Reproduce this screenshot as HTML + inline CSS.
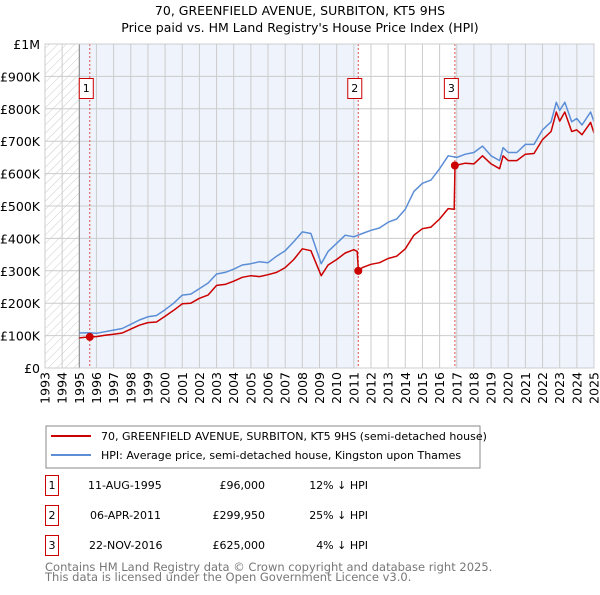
<!DOCTYPE html>
<html><head><meta charset="utf-8"><style>
body{margin:0;background:#fff;font-family:"Liberation Sans","DejaVu Sans",sans-serif;}
svg text{font-family:"DejaVu Sans","Liberation Sans",sans-serif;}
</style></head><body>
<svg id="c" width="600" height="590" xmlns="http://www.w3.org/2000/svg">
<defs><pattern id="hatch" width="6" height="6" patternUnits="userSpaceOnUse" patternTransform="rotate(45)"><line x1="0" y1="0" x2="0" y2="6" stroke="#ccc" stroke-width="1"/></pattern></defs>
<text x="300" y="15" text-anchor="middle" font-size="12.5">70, GREENFIELD AVENUE, SURBITON, KT5 9HS</text>
<text x="300" y="32" text-anchor="middle" font-size="12.5">Price paid vs. HM Land Registry's House Price Index (HPI)</text>
<g id="plot"></g>
<rect x="46" y="426" width="434" height="42" fill="#fff" stroke="#888"/>
<line x1="51" y1="436" x2="91" y2="436" stroke="#cc0000" stroke-width="2"/>
<text x="101" y="440" font-size="11">70, GREENFIELD AVENUE, SURBITON, KT5 9HS (semi-detached house)</text>
<line x1="51" y1="455" x2="91" y2="455" stroke="#5b8ed6" stroke-width="2"/>
<text x="101" y="459" font-size="11">HPI: Average price, semi-detached house, Kingston upon Thames</text>
<g font-size="11">
<rect x="45.5" y="475.5" width="13" height="20" fill="#fff" stroke="#cc0000"/><text x="52" y="489" text-anchor="middle">1</text>
<text x="88" y="489">11-AUG-1995</text><text x="265" y="489" text-anchor="end">£96,000</text><text x="368" y="489" text-anchor="end">12% ↓ HPI</text>
<rect x="45.5" y="505.5" width="13" height="20" fill="#fff" stroke="#cc0000"/><text x="52" y="519" text-anchor="middle">2</text>
<text x="90" y="519">06-APR-2011</text><text x="265" y="519" text-anchor="end">£299,950</text><text x="368" y="519" text-anchor="end">25% ↓ HPI</text>
<rect x="45.5" y="535.5" width="13" height="20" fill="#fff" stroke="#cc0000"/><text x="52" y="549" text-anchor="middle">3</text>
<text x="89" y="549">22-NOV-2016</text><text x="265" y="549" text-anchor="end">£625,000</text><text x="368" y="549" text-anchor="end">4% ↓ HPI</text>
</g>
<text x="45" y="571" font-size="11.5" fill="#777">Contains HM Land Registry data © Crown copyright and database right 2025.</text>
<text x="45" y="581" font-size="11.5" fill="#777">This data is licensed under the Open Government Licence v3.0.</text>
</svg>
<script>
const yTicks=[0,100,200,300,400,500,600,700,800,900,1000];
const yTickLabels=["£0","£100K","£200K","£300K","£400K","£500K","£600K","£700K","£800K","£900K","£1M"];
const xYears=[1993,1994,1995,1996,1997,1998,1999,2000,2001,2002,2003,2004,2005,2006,2007,2008,2009,2010,2011,2012,2013,2014,2015,2016,2017,2018,2019,2020,2021,2022,2023,2024,2025];
const hpiT=[1995,1995.5,1996,1996.5,1997,1997.5,1998,1998.5,1999,1999.5,2000,2000.5,2001,2001.5,2002,2002.5,2003,2003.5,2004,2004.5,2005,2005.5,2006,2006.5,2007,2007.5,2008,2008.5,2009.1,2009.5,2010,2010.5,2011,2011.5,2012,2012.5,2013,2013.5,2014,2014.5,2015,2015.5,2016,2016.5,2017,2017.5,2018,2018.5,2019,2019.5,2019.7,2020,2020.5,2021,2021.5,2022,2022.5,2022.8,2023,2023.3,2023.7,2024,2024.3,2024.8,2025];
const hpiV=[108,109,107,112,117,122,135,148,158,162,180,200,225,228,245,262,290,295,305,318,322,328,325,345,362,390,420,415,322,360,385,410,405,415,425,432,450,460,490,545,570,580,615,655,650,660,665,685,655,640,680,665,665,690,690,735,760,820,795,820,760,770,750,790,760];
const ppT=[1995,1995.6,1996,1996.5,1997,1997.5,1998,1998.5,1999,1999.5,2000,2000.5,2001,2001.5,2002,2002.5,2003,2003.5,2004,2004.5,2005,2005.5,2006,2006.5,2007,2007.5,2008,2008.5,2009.1,2009.5,2010,2010.5,2011,2011.2,2011.27,2011.5,2012,2012.5,2013,2013.5,2014,2014.5,2015,2015.5,2016,2016.5,2016.85,2016.9,2017.5,2018,2018.5,2019,2019.5,2019.7,2020,2020.5,2021,2021.5,2022,2022.5,2022.8,2023,2023.3,2023.7,2024,2024.3,2024.8,2025];
const ppV=[93,96,97,101,104,108,120,132,140,142,160,178,198,200,215,225,255,258,268,280,285,282,288,295,310,335,368,362,285,318,335,355,365,360,300,310,320,325,338,345,368,410,430,435,460,492,490,625,632,630,655,630,615,655,640,640,660,662,705,730,790,762,790,730,735,720,758,725];
const saleT=[1995.61,2011.26,2016.89];
const saleV=[96,299.95,625];
const saleLabels=["1","2","3"];
const X0=45,X1=594,Y0=368,Y1=44;
const sx=t=>X0+(t-1993)/(2025-1993)*(X1-X0);
const sy=v=>Y0-v/1000*(Y0-Y1);
const NS="http://www.w3.org/2000/svg";
const g=document.getElementById('plot');
function mk(tag,at){const e=document.createElementNS(NS,tag);for(const k in at)e.setAttribute(k,at[k]);g.appendChild(e);return e;}
let e;
e=mk('rect',{x:sx(1995),y:Y1,width:sx(saleT[1])-sx(1995),height:Y0-Y1,fill:'#eef3fc'});

e=mk('rect',{x:sx(saleT[2]),y:Y1,width:X1-sx(saleT[2]),height:Y0-Y1,fill:'#eef3fc'});

e=mk('rect',{x:X0,y:Y1,width:sx(1995)-X0,height:Y0-Y1,fill:'url(#hatch)'});

xYears.forEach(y=>{e=mk('line',{x1:sx(y),y1:Y1,x2:sx(y),y2:Y0,stroke:'#ccc','stroke-width':1});

e=mk('text',{x:0,y:0,'font-size':12.5,'text-anchor':'end',transform:`translate(${sx(y)+4.5},${Y0+4}) rotate(-90)`});e.textContent=y;
});
yTicks.forEach((v,i)=>{e=mk('line',{x1:X0,y1:sy(v),x2:X1,y2:sy(v),stroke:'#ccc','stroke-width':1});

e=mk('text',{x:40,y:sy(v)+5,'font-size':12.5,'text-anchor':'end'});e.textContent=yTickLabels[i];
});
e=mk('line',{x1:sx(1995),y1:Y1,x2:sx(1995),y2:Y0,stroke:'#888'});

saleT.forEach((t,i)=>{e=mk('line',{x1:sx(t),y1:Y1,x2:sx(t),y2:Y0,stroke:'#e05050','stroke-dasharray':'2,2','stroke-width':1});
});
function path(T,V,col,name){const d=T.map((t,i)=>(i?'L':'M')+sx(t).toFixed(1)+','+sy(V[i]).toFixed(1)).join('');
e=mk('path',{d:d,fill:'none',stroke:col,'stroke-width':1.5,'stroke-linejoin':'round'});
}
path(hpiT,hpiV,'#5b8ed6','hpi-line');
path(ppT,ppV,'#cc0000','property-price-line');
saleT.forEach((t,i)=>{e=mk('circle',{cx:sx(t),cy:sy(saleV[i]),r:4,fill:'#cc0000'});

e=mk('rect',{x:sx(t)-10.5,y:78.5,width:14,height:20,fill:'#fff',stroke:'#cc0000'});

e=mk('text',{x:sx(t)-3.5,y:92,'font-size':11,'text-anchor':'middle'});e.textContent=saleLabels[i];
});
e=mk('rect',{x:X0,y:Y1,width:X1-X0,height:Y0-Y1,fill:'none',stroke:'#ccc'});

</script>
</body></html>
